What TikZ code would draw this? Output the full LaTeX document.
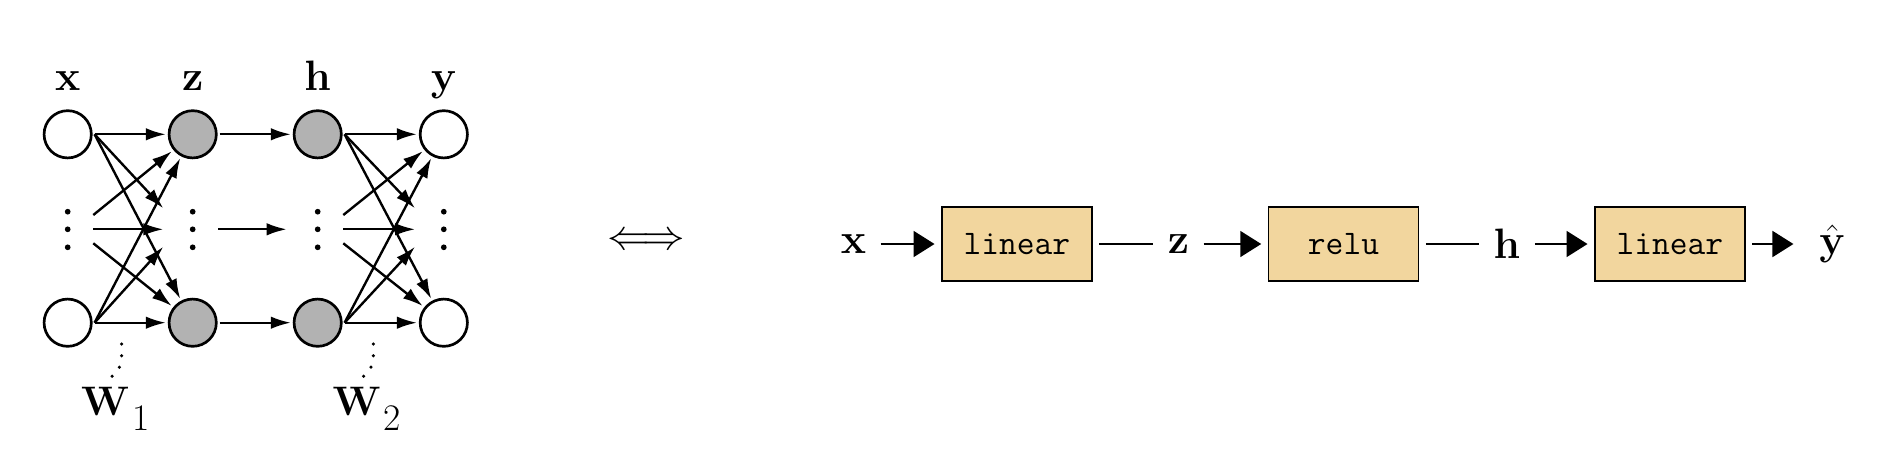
\RequirePackage{fix-cm}
\documentclass[tikz,border=0pt]{standalone}
\usetikzlibrary{arrows.meta}
\definecolor{boxfill}{HTML}{F2D69E}
\begin{document}
\begin{tikzpicture}[x=0.4pt,y=-0.4pt,
  neuron/.style={circle,draw,line width=1.07pt,minimum size=18.9pt,inner sep=0pt,outer sep=1.3pt,fill=white},
  hidden/.style={neuron,fill=black!30},
  netarrow/.style={-{Latex[length=8pt,width=5pt]},line width=0.95pt},
  vdot/.style={circle,fill,inner sep=0pt,minimum size=2.3pt},
  lbl/.style={anchor=base,inner sep=0pt,font=\fontsize{17}{20}\selectfont},
  wlbl/.style={anchor=base west,inner sep=0pt,font=\fontsize{16.5}{19}\selectfont},
  wdots/.style={line width=1.4pt,line cap=round,dash pattern=on 0pt off 4.7pt},
  opbox/.style={draw,fill=boxfill,line width=0.7pt,minimum width=60pt,minimum height=29.8pt,inner sep=0pt,outer sep=2.9pt,font=\fontsize{13.8}{16}\selectfont\ttfamily},
  chainvar/.style={inner sep=0pt,outer sep=5.8pt,font=\fontsize{17}{20}\selectfont},
  chainarrow/.style={-{Triangle[length=8.4pt,width=10.3pt]},line width=1.07pt},
  chainline/.style={line width=1.07pt},
]
\useasboundingbox (0,0) rectangle (1882,448);

% ---------- left network ----------
\node[neuron] (x1) at (67.7,134.3) {};
\node[neuron] (x2) at (67.7,322.7) {};
\node[hidden] (z1) at (192.7,134.3) {};
\node[hidden] (z2) at (192.7,322.7) {};
\node[hidden] (h1) at (317.7,134.3) {};
\node[hidden] (h2) at (317.7,322.7) {};
\node[neuron] (y1) at (443.8,134.3) {};
\node[neuron] (y2) at (443.8,322.7) {};

\foreach \c/\n in {67.7/xd,192.7/zd,317.7/hd,443.8/yd}{
  \foreach \yy [count=\i] in {211.7,229.3,247.3}
    \node[vdot] (\n\i) at (\c,\yy) {};
}

\node[lbl] (lx) at (67.7,90) {$\mathbf{x}$};
\node[lbl] (lz) at (192.7,90) {$\mathbf{z}$};
\node[lbl] (lh) at (317.7,90) {$\mathbf{h}$};
\node[lbl] (ly) at (443.8,90) {$\mathbf{y}$};

% connection points at the dotted rows
\coordinate (xm1) at (93.3,215);
\coordinate (xm2) at (93.3,229.3);
\coordinate (xm3) at (93.3,243.3);
\coordinate (zm1) at (163.3,208.3);
\coordinate (zm2) at (163.3,229.3);
\coordinate (zm3) at (163.3,246.7);
\coordinate (zo) at (218.3,229.3);
\coordinate (hi) at (286.7,229.3);
\coordinate (hm1) at (343.3,215);
\coordinate (hm2) at (343.3,229.3);
\coordinate (hm3) at (343.3,243.3);
\coordinate (ym1) at (415,208.3);
\coordinate (ym2) at (415,229.3);
\coordinate (ym3) at (415,246.7);

% W1 edges
\draw[netarrow] (x1.east) -- (z1);
\draw[netarrow] (x1.east) -- (zm1);
\draw[netarrow] (x1.east) -- (z2);
\draw[netarrow] (xm1) -- (z1);
\draw[netarrow] (xm2) -- (zm2);
\draw[netarrow] (xm3) -- (z2);
\draw[netarrow] (x2.east) -- (z1);
\draw[netarrow] (x2.east) -- (zm3);
\draw[netarrow] (x2.east) -- (z2);

% activation
\draw[netarrow] (z1) -- (h1);
\draw[netarrow] (zo) -- (hi);
\draw[netarrow] (z2) -- (h2);

% W2 edges
\draw[netarrow] (h1.east) -- (y1);
\draw[netarrow] (h1.east) -- (ym1);
\draw[netarrow] (h1.east) -- (y2);
\draw[netarrow] (hm1) -- (y1);
\draw[netarrow] (hm2) -- (ym2);
\draw[netarrow] (hm3) -- (y2);
\draw[netarrow] (h2.east) -- (y1);
\draw[netarrow] (h2.east) -- (ym3);
\draw[netarrow] (h2.east) -- (y2);

% weight labels
\node[wlbl] (W1) at (80.5,415) {$\mathbf{W}$\kern1pt\raisebox{-6pt}{\fontsize{15}{18}\selectfont 1}};
\node[wlbl] (W2) at (332,415) {$\mathbf{W}$\kern1pt\raisebox{-6pt}{\fontsize{15}{18}\selectfont 2}};
\coordinate (w1s) at (121.7,344);
\coordinate (w1e) at (110,378.3);
\coordinate (w2s) at (373.3,344);
\coordinate (w2e) at (361.6,378.3);
\draw[wdots] (w1s) .. controls (122,366) .. (w1e);
\draw[wdots] (w2s) .. controls (373.6,366) .. (w2e);

% ---------- equivalence ----------
\node[inner sep=0pt,font=\fontsize{17}{20}\selectfont] (iff) at (646,242) {$\Longleftrightarrow$};

% ---------- right chain ----------
\node[chainvar] (cx) at (853.6,244) {$\mathbf{x}$};
\node[opbox] (lin1) at (1016.8,244) {linear};
\node[chainvar] (cz) at (1178.6,244) {$\mathbf{z}$};
\node[opbox] (relu) at (1343.5,244) {relu};
\node[chainvar] (ch) at (1507,244) {$\mathbf{h}$};
\node[opbox] (lin2) at (1669.8,244) {linear};
\node[chainvar] (cy) at (1832.4,244) {$\hat{\mathbf{y}}$};

\draw[chainarrow] (cx) -- (lin1);
\draw[chainline] (lin1) -- (cz);
\draw[chainarrow] (cz) -- (relu);
\draw[chainline] (relu) -- (ch);
\draw[chainarrow] (ch) -- (lin2);
\draw[chainarrow,shorten >=4.6pt] (lin2) -- (cy);
\end{tikzpicture}
\end{document}
